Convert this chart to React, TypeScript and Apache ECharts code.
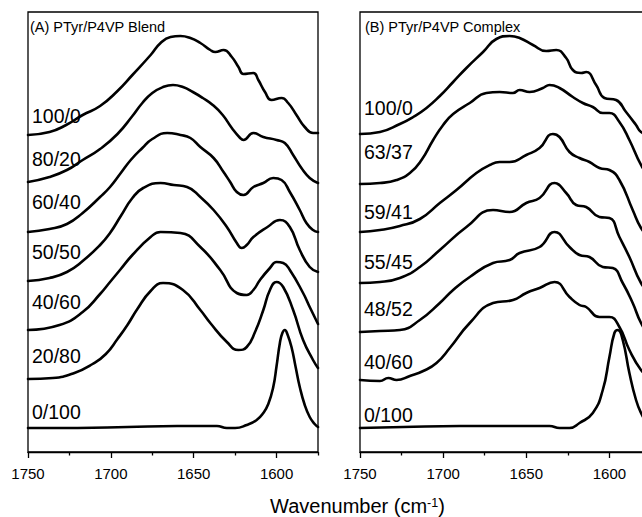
import React, { useEffect, useRef } from 'react';
import * as echarts from 'echarts';

const FONT = '"Liberation Sans", Arial, Helvetica, sans-serif';

const xMin = 1575;
const xMax = 1750;
const majorTicks = [1750, 1700, 1650, 1600];
const minorTicks = [1725, 1675, 1625, 1575];

type Pt = [number, number];

// Panel A: PTyr/P4VP Blend (wavenumber, stacked absorbance in plot units)
const blend100_0: Pt[] = [[1750,317],[1737,320],[1727,327],[1717,337],[1706.5,346],[1696,361],[1687,377],[1676,397],[1670,409],[1664,415],[1658,416],[1652,414],[1646,409],[1640,402],[1637,400],[1632,402],[1627,395],[1623,385],[1620,378],[1614,379],[1611,372],[1607,360],[1603,352],[1597,354],[1593,349],[1588,337],[1583,325],[1578,319],[1575,319]];
const blend80_20: Pt[] = [[1750,270],[1737,275],[1726.5,282],[1717,292],[1706.5,303],[1696,318],[1687,336],[1681,349],[1675,359],[1668.5,365],[1662.5,367],[1656.5,365],[1650.5,360],[1644.5,354],[1638.5,347],[1632.5,337],[1627,324],[1622,314],[1620,312],[1614,319],[1608,315],[1600,312],[1595,309],[1590,297],[1585,284],[1580,274],[1575,269]];
const blend60_40: Pt[] = [[1750,220],[1737,223],[1726.5,228],[1717,239],[1706.5,255],[1700.5,265],[1694,279],[1688,292],[1681,304],[1675,313],[1666,319],[1658,317],[1652,314],[1646,305],[1638,294],[1632,280],[1628,270],[1624,260],[1620,257],[1614,265],[1608,269],[1602,274],[1597,272],[1592,260],[1586,242],[1582,229],[1578,222],[1575,220]];
const blend50_50: Pt[] = [[1750,171],[1737,174],[1726.5,180],[1717,191],[1706.5,207],[1700.5,219],[1694,236],[1687,254],[1680.5,264],[1670,269],[1662,267],[1654,265],[1646,255],[1638,242],[1630,225],[1624,209],[1621,204],[1618,207],[1614,215],[1605.5,225],[1598,232],[1592,225],[1586,202],[1580,185],[1575,180]];
const blend40_60: Pt[] = [[1750,122],[1731,127],[1717,140],[1706.5,158],[1700.5,170],[1694,183],[1687,197],[1676,215],[1670,220],[1658,219],[1646,205],[1634,182],[1624,159],[1618,157],[1614,162],[1610,172],[1604,184],[1600,190],[1596,189],[1592,182],[1584,159],[1580,145],[1575,128]];
const blend20_80: Pt[] = [[1750,73],[1735,74],[1722,79],[1711,88],[1703,98],[1696,113],[1690,127],[1684,143],[1676,161],[1668.5,169],[1656.5,162],[1646,142],[1640,129],[1630,110],[1623,102],[1618,105],[1613,120],[1608,142],[1604,162],[1600,170],[1596,165],[1590,142],[1584,112],[1578,92],[1575,84]];
const blend0_100: Pt[] = [[1750,24],[1720,24],[1690,25],[1660,26],[1636,26],[1630,24],[1625,24],[1618,27],[1612,32],[1608,39],[1605,48],[1602,65],[1600,86],[1598,109],[1596.5,119],[1595,122],[1593.5,118],[1591,105],[1588.5,85],[1586,65],[1583,47],[1580,35],[1577,28],[1575,25]];

// Panel B: PTyr/P4VP Complex
const complex100_0: Pt[] = [[1750,318],[1738,320],[1726,328],[1718,335],[1710,344],[1702,356],[1694,370],[1686,384],[1676,400],[1668,413],[1660,416],[1654,414],[1646,407],[1638,401],[1632,402],[1626,394],[1622,382],[1617,379],[1614,380],[1608,367],[1603,354],[1596,352],[1590,340],[1584,327],[1581,320],[1575,316]];
const complex63_37: Pt[] = [[1750,268],[1738,269],[1728,272],[1720,279],[1713,292],[1706,312],[1700,327],[1694,338],[1684,349],[1674,359],[1666,360],[1658,359],[1654,362],[1648,360],[1640,364],[1636,367],[1630,364],[1622,355],[1616,349],[1610,345],[1604,339],[1600,339],[1594,330],[1588,312],[1581,287],[1575,272]];
const complex59_41: Pt[] = [[1750,220],[1738,222],[1726,226],[1714,233],[1702,249],[1692,262],[1680,279],[1672,287],[1666,290],[1660,290],[1650,297],[1642,304],[1634,318],[1630,315],[1624,300],[1618,294],[1612,290],[1606,284],[1600,282],[1594,272],[1586,242],[1581,224],[1575,212]];
const complex55_45: Pt[] = [[1750,169],[1738,170],[1726,174],[1714,185],[1702,202],[1686,225],[1670,242],[1660,240],[1650,249],[1642,254],[1633,269],[1626,259],[1620,247],[1614,245],[1606,235],[1600,234],[1594,215],[1588,195],[1581,169],[1575,157]];
const complex48_52: Pt[] = [[1750,120],[1738,121],[1726,122],[1714,132],[1702,149],[1694,162],[1684,175],[1670,189],[1660,192],[1654,199],[1642,205],[1633,220],[1624,205],[1618,197],[1612,195],[1604,185],[1598,184],[1592,169],[1586,149],[1581,129],[1575,114]];
const complex40_60: Pt[] = [[1750,72],[1738,71],[1733,74],[1728,72],[1720,76],[1712,81],[1704,89],[1696,104],[1684,129],[1670,149],[1658,152],[1650,159],[1642,164],[1633,170],[1624,155],[1618,147],[1614,145],[1606,135],[1600,135],[1594,125],[1588,102],[1581,82],[1575,72]];
const complex0_100: Pt[] = [[1750,24],[1724,25],[1690,26],[1662,26],[1636,26],[1630,24],[1624,24],[1618,29],[1610,39],[1604,62],[1600,95],[1597,119],[1595,122],[1592,112],[1588,79],[1584,52],[1581,39],[1578,31],[1575,27]];

const blendNames = ['100/0', '80/20', '60/40', '50/50', '40/60', '20/80', '0/100'];
const complexNames = ['100/0', '63/37', '59/41', '55/45', '48/52', '40/60', '0/100'];
const blendData = [blend100_0, blend80_20, blend60_40, blend50_50, blend40_60, blend20_80, blend0_100];
const complexData = [complex100_0, complex63_37, complex59_41, complex55_45, complex48_52, complex40_60, complex0_100];

const panelTitles = ['(A) PTyr/P4VP Blend', '(B) PTyr/P4VP Complex'];

// label layout (pixels)
const blendLabelY = [116, 159, 202, 252, 302, 356, 412];
const complexLabelY = [108, 152, 212, 262, 309, 362, 415];

function makeXAxes(gridIndex: number) {
  return [
    {
      type: 'value', gridIndex, min: xMin, max: xMax, inverse: true, position: 'bottom',
      axisLine: { show: true, onZero: false, lineStyle: { color: '#000', width: 1.3 } },
      axisTick: { show: true, inside: false, length: 6, customValues: majorTicks, lineStyle: { color: '#000', width: 1.3 } },
      axisLabel: { show: true, customValues: majorTicks, fontSize: 15, color: '#000', fontFamily: FONT, margin: 14, formatter: (v: number) => String(v) },
      splitLine: { show: false },
    },
    {
      type: 'value', gridIndex, min: xMin, max: xMax, inverse: true, position: 'bottom',
      axisLine: { show: false },
      axisTick: { show: true, inside: false, length: 3.5, customValues: minorTicks, lineStyle: { color: '#000', width: 1.3 } },
      axisLabel: { show: false },
      splitLine: { show: false },
    },
  ];
}

function textEl(text: string, x: number, y: number, size: number) {
  return {
    type: 'text', x, y, silent: true,
    style: { text, fontSize: size, fontFamily: FONT, fill: '#000', textAlign: 'left', textVerticalAlign: 'middle', align: 'left', verticalAlign: 'middle' },
  };
}

export default function App() {
  const ref = useRef<HTMLDivElement>(null);
  useEffect(() => {
    if (!ref.current) return;
    const chart = echarts.init(ref.current, undefined, { renderer: 'svg' });
    const series: any[] = [];
    blendData.forEach((d, i) => series.push({
      name: 'A ' + blendNames[i], type: 'line', xAxisIndex: 0, yAxisIndex: 0, data: d,
      showSymbol: false, symbol: 'none', smooth: 0.5, clip: true,
      lineStyle: { color: '#000', width: 2.6, join: 'round', cap: 'round' },
    }));
    complexData.forEach((d, i) => series.push({
      name: 'B ' + complexNames[i], type: 'line', xAxisIndex: 2, yAxisIndex: 1, data: d,
      showSymbol: false, symbol: 'none', smooth: 0.5, clip: true,
      lineStyle: { color: '#000', width: 2.6, join: 'round', cap: 'round' },
    }));
    const graphic: any[] = [
      textEl(panelTitles[0], 30, 27, 14.5),
      textEl(panelTitles[1], 365, 27, 14.5),
      ...blendNames.map((n, i) => textEl(n, 32, blendLabelY[i], 19.5)),
      ...complexNames.map((n, i) => textEl(n, 364, complexLabelY[i], 19.5)),
      {
        type: 'text', x: 270, y: 506, silent: true,
        style: {
          text: '{a|Wavenumber (cm}{s|-1}{a|)}',
          textAlign: 'left', textVerticalAlign: 'middle', align: 'left', verticalAlign: 'middle',
          fontSize: 20, fontFamily: FONT, fill: '#000',
          rich: {
            a: { fontSize: 20, fontFamily: FONT, fill: '#000' },
            s: { fontSize: 12.5, fontFamily: FONT, fill: '#000', verticalAlign: 'top' },
          },
        },
      },
    ];
    chart.setOption({
      animation: false,
      backgroundColor: '#fff',
      grid: [
        { left: 28, top: 12, width: 290, height: 440, show: true, borderColor: '#000', borderWidth: 1.3, backgroundColor: 'transparent', containLabel: false },
        { left: 360, top: 12, width: 291, height: 440, show: true, borderColor: '#000', borderWidth: 1.3, backgroundColor: 'transparent', containLabel: false },
      ],
      xAxis: [...makeXAxes(0), ...makeXAxes(1)],
      yAxis: [
        { type: 'value', gridIndex: 0, min: 0, max: 440, show: false },
        { type: 'value', gridIndex: 1, min: 0, max: 440, show: false },
      ],
      series,
      graphic,
    });
    return () => chart.dispose();
  }, []);
  return (
    <div style={{ position: 'absolute', left: 0, top: 0, width: 642, height: 517, overflow: 'hidden', background: '#fff' }}>
      <div ref={ref} style={{ width: 660, height: 517 }} />
    </div>
  );
}
